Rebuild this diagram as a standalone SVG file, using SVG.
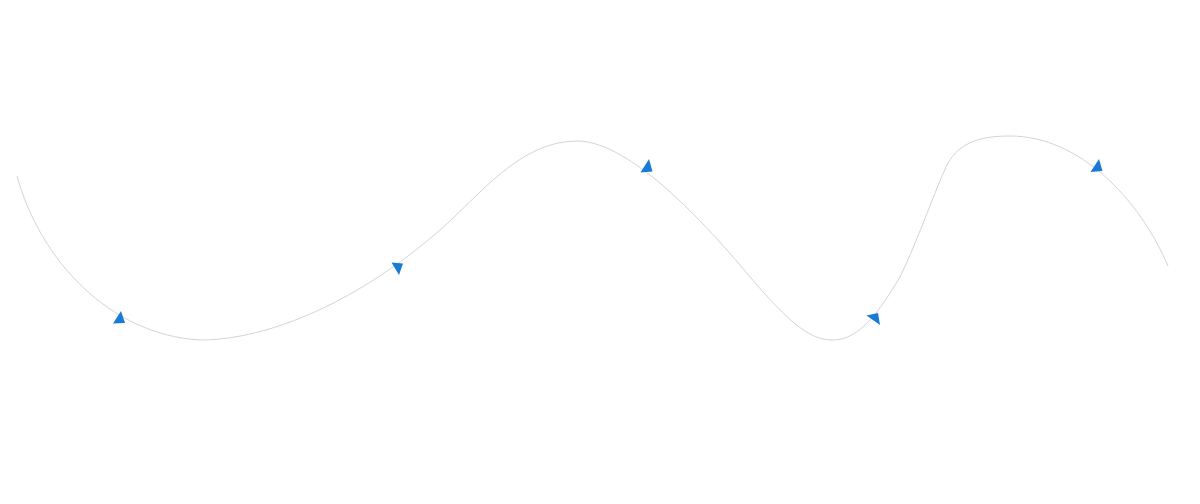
<svg xmlns="http://www.w3.org/2000/svg" width="1200" height="504" viewBox="0 0 1200 504">
<style>
.line{fill:none;stroke:#d4d4d4;stroke-width:1}
.arrow{fill:#1a7bd4}
</style>
<rect width="1200" height="504" fill="#ffffff"/>
<g id="connectors">
<path class="line" d="M17,176 C40,260 110,335 200,340 C270,340 360,300 440,230 C480,195 520,141 577,141 C620,141 680,195 740,265 C790,325 810,340 833,340 C860,340 880,310 900,277 C920,235 935,190 947,165 C960,140 985,136 1010,136 C1080,136 1140,200 1168,266"/>
</g>
<g id="arrows">
<polygon id="a1" class="arrow" points="121,311 113,323.5 125,323"/>
<polygon id="a2" class="arrow" points="391.5,262.5 403,263.5 399,275"/>
<polygon id="a3" class="arrow" points="649,159 640.5,172.5 652.5,171.5"/>
<polygon id="a4" class="arrow" points="866.5,315.5 878,313 880,325"/>
<polygon id="a5" class="arrow" points="1099,159 1090.5,172 1102.5,171"/>
</g>
</svg>
